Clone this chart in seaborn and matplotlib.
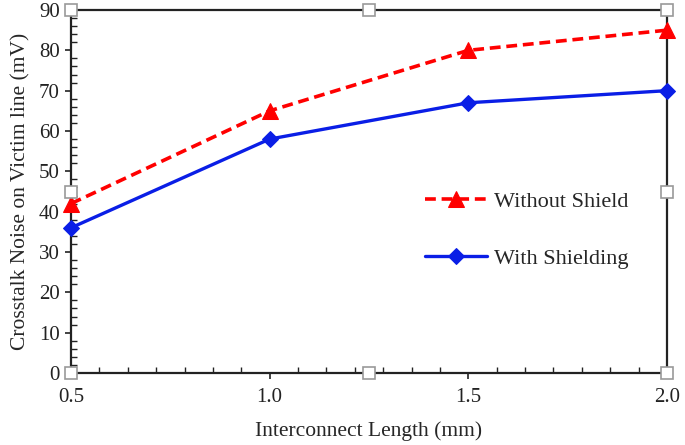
import matplotlib
matplotlib.use("Agg")
import matplotlib.pyplot as plt
import seaborn as sns
import pandas as pd
from matplotlib.ticker import MultipleLocator

lengths = [0.5, 1.0, 1.5, 2.0]
without_shield = [42, 65, 80, 85]
with_shielding = [36, 58, 67, 70]
series_names = ["Without Shield", "With Shielding"]

sns.set_theme(style="white")
plt.rcParams['font.family'] = ['Liberation Serif', 'DejaVu Serif']

fig = plt.figure(figsize=(6.85, 4.45), dpi=100)
ax = fig.add_axes([71/685, 1 - 373/445, (667-71)/685, (373-10)/445])

df1 = pd.DataFrame({"x": lengths, "y": without_shield})
df2 = pd.DataFrame({"x": lengths, "y": with_shielding})
sns.lineplot(data=df1, x="x", y="y", ax=ax, color="#ff0000", linestyle=(0, (3, 1.6)),
             linewidth=2.6, marker="^", markersize=11, markeredgecolor="#ff0000",
             label=series_names[0], clip_on=False, zorder=4)
sns.lineplot(data=df2, x="x", y="y", ax=ax, color="#0a1ee6", linewidth=2.4,
             marker="D", markersize=8, markeredgecolor="#0a1ee6",
             label=series_names[1], clip_on=False, zorder=4)

ax.set_xlim(0.5, 2.0)
ax.set_ylim(0, 90)
ax.xaxis.set_major_locator(MultipleLocator(0.5))
ax.xaxis.set_minor_locator(MultipleLocator(0.5/7))
ax.yaxis.set_major_locator(MultipleLocator(10))
ax.yaxis.set_minor_locator(MultipleLocator(2))
ax.xaxis.set_major_formatter(matplotlib.ticker.FormatStrFormatter('%.1f'))
ax.tick_params(axis='both', which='major', direction='out', length=4, width=1.2,
               labelsize=15, colors='#222222', bottom=True, left=True)
ax.tick_params(axis='both', which='minor', direction='in', length=4, width=1.0,
               bottom=True, left=True, colors='#222222')
ax.tick_params(axis='x', pad=7)
ax.tick_params(axis='y', pad=4)
for sp in ax.spines.values():
    sp.set_color('#222222')
    sp.set_linewidth(1.6)
    sp.set_visible(True)

ax.set_xlabel("Interconnect Length (mm)", fontsize=15.5, labelpad=10)
ax.set_ylabel("Crosstalk Noise on Victim line (mV)", fontsize=15.5, labelpad=6)

# selection handles
for hx, hy in [(0, 0), (0.5, 0), (1, 0), (0, 0.5), (1, 0.5), (0, 1), (0.5, 1), (1, 1)]:
    ax.plot(hx, hy, marker="s", markersize=8, markerfacecolor="white",
            markeredgecolor="#999999", markeredgewidth=1.2, transform=ax.transAxes,
            clip_on=False, zorder=6)

leg = ax.legend(loc="center left", bbox_to_anchor=(0.56, 0.393), frameon=False,
                fontsize=16, labelspacing=1.65, handlelength=2.8, handletextpad=0.3)

fig.savefig("out.png", dpi=100)
